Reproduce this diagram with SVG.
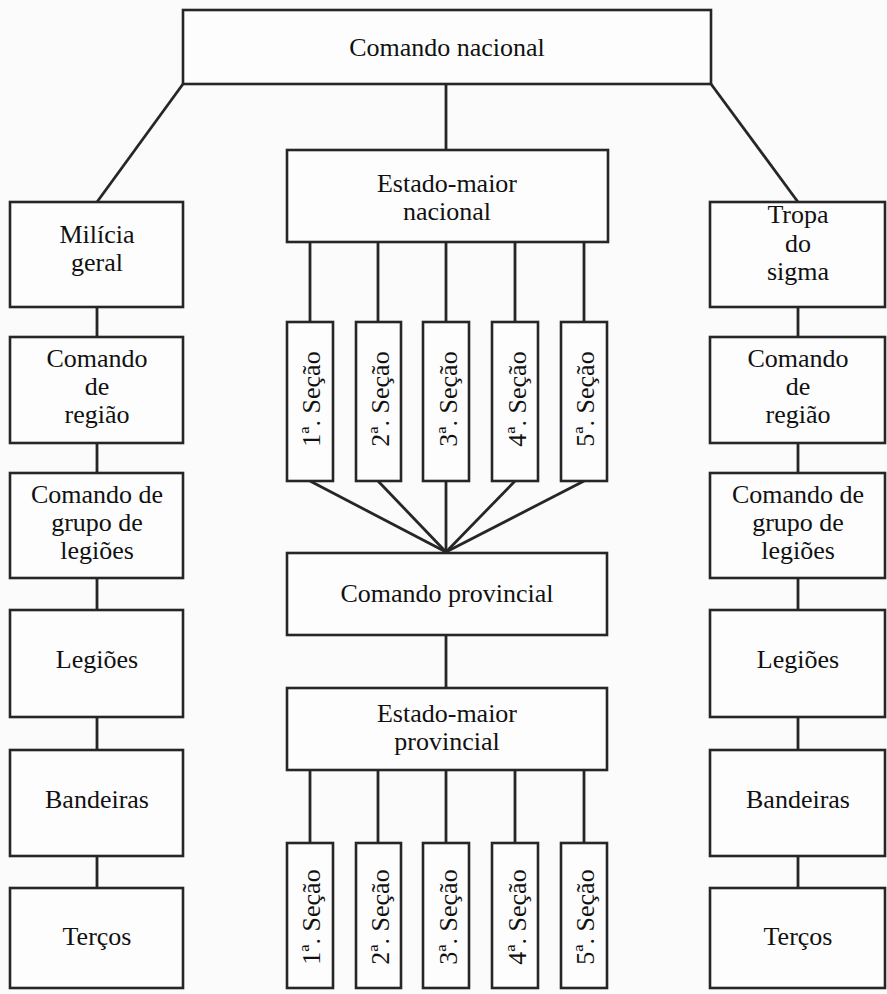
<svg xmlns="http://www.w3.org/2000/svg" width="887" height="994" viewBox="0 0 887 994">
<style>
.box{fill:#fdfdfd;stroke:#262626;stroke-width:2.6}
.ln{fill:none;stroke:#262626;stroke-width:2.8}
text{font-family:"Liberation Serif","Times New Roman",serif;font-size:26px;fill:#111;text-anchor:middle}
</style>
<rect width="887" height="994" fill="#fbfbfb"/>
<g id="connectors">
<line class="ln" x1="183" y1="84" x2="97" y2="202"/>
<line class="ln" x1="711" y1="84" x2="798" y2="202"/>
<line class="ln" x1="446" y1="84" x2="446" y2="150"/>
<line class="ln" x1="97" y1="307" x2="97" y2="337"/>
<line class="ln" x1="97" y1="443" x2="97" y2="473"/>
<line class="ln" x1="97" y1="578" x2="97" y2="610"/>
<line class="ln" x1="97" y1="717" x2="97" y2="750"/>
<line class="ln" x1="97" y1="856" x2="97" y2="888"/>
<line class="ln" x1="798" y1="307" x2="798" y2="337"/>
<line class="ln" x1="798" y1="443" x2="798" y2="473"/>
<line class="ln" x1="798" y1="578" x2="798" y2="610"/>
<line class="ln" x1="798" y1="717" x2="798" y2="750"/>
<line class="ln" x1="798" y1="856" x2="798" y2="888"/>
<line class="ln" x1="310" y1="242" x2="310" y2="322"/>
<line class="ln" x1="378" y1="242" x2="378" y2="322"/>
<line class="ln" x1="446" y1="242" x2="446" y2="322"/>
<line class="ln" x1="515" y1="242" x2="515" y2="322"/>
<line class="ln" x1="584" y1="242" x2="584" y2="322"/>
<line class="ln" x1="310" y1="481" x2="446" y2="552"/>
<line class="ln" x1="378" y1="481" x2="446" y2="552"/>
<line class="ln" x1="446" y1="481" x2="446" y2="552"/>
<line class="ln" x1="515" y1="481" x2="446" y2="552"/>
<line class="ln" x1="584" y1="481" x2="446" y2="552"/>
<line class="ln" x1="446" y1="635" x2="446" y2="688"/>
<line class="ln" x1="310" y1="770" x2="310" y2="843"/>
<line class="ln" x1="378" y1="770" x2="378" y2="843"/>
<line class="ln" x1="446" y1="770" x2="446" y2="843"/>
<line class="ln" x1="515" y1="770" x2="515" y2="843"/>
<line class="ln" x1="584" y1="770" x2="584" y2="843"/>
</g>
<g id="comando-nacional"><rect class="box" x="183" y="10" width="528" height="74"/><text x="447" y="56">Comando nacional</text></g>
<g id="milicia-geral"><rect class="box" x="10" y="202" width="173" height="105"/><text x="97" y="243">Milícia</text><text x="97" y="271">geral</text></g>
<g id="l-comando-regiao"><rect class="box" x="10" y="337" width="173" height="106"/><text x="97" y="367">Comando</text><text x="97" y="395">de</text><text x="97" y="423">região</text></g>
<g id="l-grupo-legioes"><rect class="box" x="10" y="473" width="173" height="105"/><text x="97" y="503">Comando de</text><text x="97" y="531">grupo de</text><text x="97" y="559">legiões</text></g>
<g id="l-legioes"><rect class="box" x="10" y="610" width="173" height="107"/><text x="97" y="668">Legiões</text></g>
<g id="l-bandeiras"><rect class="box" x="10" y="750" width="173" height="106"/><text x="97" y="808">Bandeiras</text></g>
<g id="l-tercos"><rect class="box" x="10" y="888" width="173" height="100"/><text x="97" y="945">Terços</text></g>
<g id="tropa-sigma"><rect class="box" x="710" y="202" width="175" height="105"/><text x="798" y="223">Tropa</text><text x="798" y="252">do</text><text x="798" y="280">sigma</text></g>
<g id="r-comando-regiao"><rect class="box" x="710" y="337" width="175" height="106"/><text x="798" y="367">Comando</text><text x="798" y="395">de</text><text x="798" y="423">região</text></g>
<g id="r-grupo-legioes"><rect class="box" x="710" y="473" width="175" height="105"/><text x="798" y="503">Comando de</text><text x="798" y="531">grupo de</text><text x="798" y="559">legiões</text></g>
<g id="r-legioes"><rect class="box" x="710" y="610" width="175" height="107"/><text x="798" y="668">Legiões</text></g>
<g id="r-bandeiras"><rect class="box" x="710" y="750" width="175" height="106"/><text x="798" y="808">Bandeiras</text></g>
<g id="r-tercos"><rect class="box" x="710" y="888" width="175" height="100"/><text x="798" y="945">Terços</text></g>
<g id="estado-maior-nacional"><rect class="box" x="287" y="150" width="321" height="92"/><text x="447" y="192">Estado-maior</text><text x="447" y="220">nacional</text></g>
<g id="n-secao-1"><rect class="box" x="287" y="322" width="46" height="159"/><text transform="translate(320,399) rotate(-90)">1ª. Seção</text></g>
<g id="n-secao-2"><rect class="box" x="356" y="322" width="45" height="159"/><text transform="translate(389,399) rotate(-90)">2ª. Seção</text></g>
<g id="n-secao-3"><rect class="box" x="423" y="322" width="46" height="159"/><text transform="translate(457,399) rotate(-90)">3ª. Seção</text></g>
<g id="n-secao-4"><rect class="box" x="492" y="322" width="46" height="159"/><text transform="translate(526,399) rotate(-90)">4ª. Seção</text></g>
<g id="n-secao-5"><rect class="box" x="561" y="322" width="46" height="159"/><text transform="translate(594,399) rotate(-90)">5ª. Seção</text></g>
<g id="comando-provincial"><rect class="box" x="287" y="553" width="320" height="82"/><text x="447" y="602">Comando provincial</text></g>
<g id="estado-maior-provincial"><rect class="box" x="287" y="688" width="320" height="82"/><text x="447" y="722">Estado-maior</text><text x="447" y="750">provincial</text></g>
<g id="p-secao-1"><rect class="box" x="287" y="843" width="46" height="145"/><text transform="translate(320,917) rotate(-90)">1ª. Seção</text></g>
<g id="p-secao-2"><rect class="box" x="356" y="843" width="45" height="145"/><text transform="translate(389,917) rotate(-90)">2ª. Seção</text></g>
<g id="p-secao-3"><rect class="box" x="423" y="843" width="46" height="145"/><text transform="translate(457,917) rotate(-90)">3ª. Seção</text></g>
<g id="p-secao-4"><rect class="box" x="492" y="843" width="46" height="145"/><text transform="translate(526,917) rotate(-90)">4ª. Seção</text></g>
<g id="p-secao-5"><rect class="box" x="561" y="843" width="46" height="145"/><text transform="translate(594,917) rotate(-90)">5ª. Seção</text></g>
</svg>
